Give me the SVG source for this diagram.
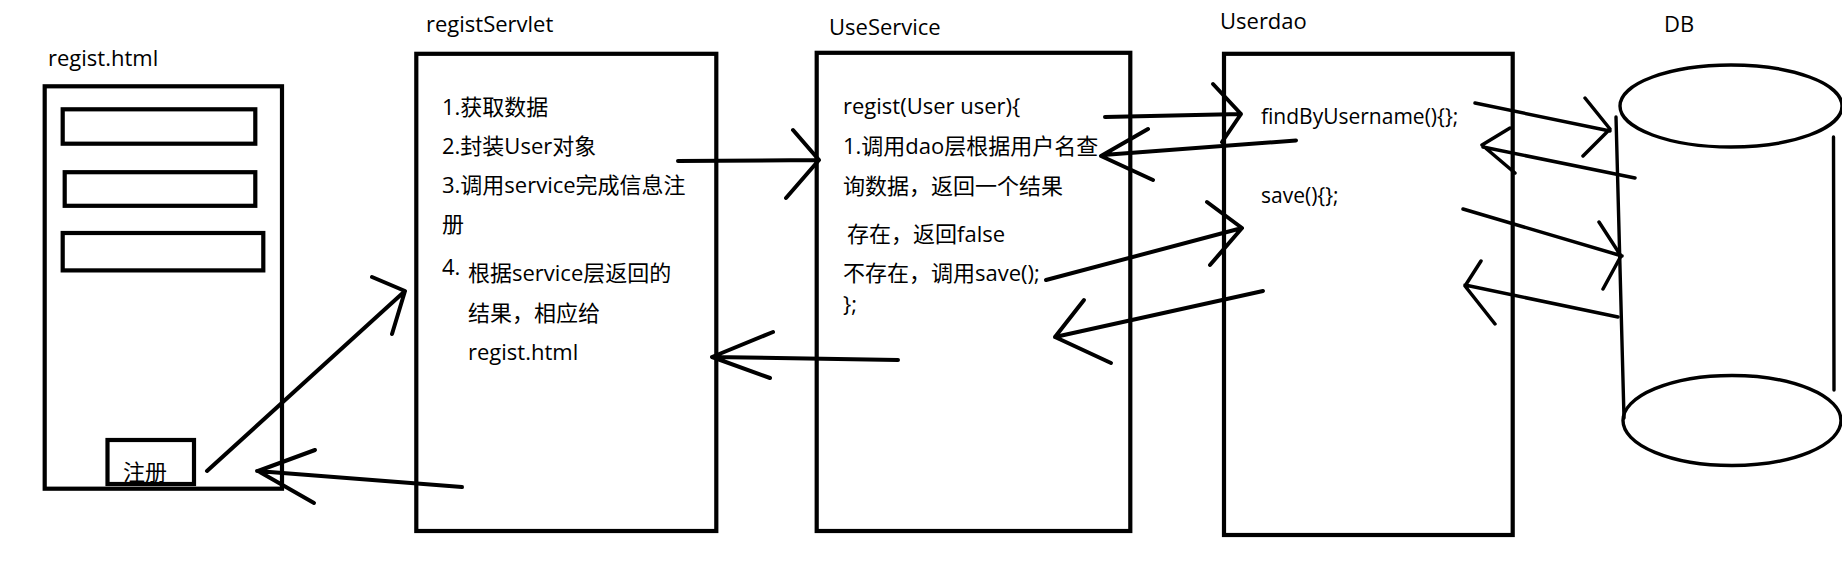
<svg xmlns="http://www.w3.org/2000/svg" width="1842" height="578" viewBox="0 0 1842 578">
<style>
  .box { fill: none; stroke: #000; stroke-width: 4.2; }
  .thin { fill: none; stroke: #000; stroke-width: 3.4; stroke-linecap: round; }
  .arr { fill: none; stroke: #000; stroke-width: 4; stroke-linecap: round; stroke-linejoin: round; }
  .arr2 { fill: none; stroke: #000; stroke-width: 3.5; stroke-linecap: round; stroke-linejoin: round; }
  text { font-family: "Open Sans", "Noto Sans CJK SC", sans-serif; font-size: 22px; fill: #000; }
  .small { font-size: 21px; }
</style>
<rect width="1842" height="578" fill="#fff"/>

<g id="regist-html">
  <text x="48" y="66">regist.html</text>
  <rect class="box" x="44.7" y="86.3" width="237.3" height="402.4"/>
  <rect class="box" x="62.7" y="109.3" width="192.6" height="34.4"/>
  <rect class="box" x="64.7" y="172.2" width="190.6" height="33.6"/>
  <rect class="box" x="62.7" y="233" width="200.6" height="37.4"/>
  <rect class="box" x="107.5" y="440" width="86.5" height="44"/>
  <text x="123" y="480">注册</text>
</g>

<g id="regist-servlet">
  <text x="426" y="32">registServlet</text>
  <rect class="box" x="416.3" y="53.8" width="300" height="477.2"/>
  <text x="442" y="115">1.获取数据</text>
  <text x="442" y="154">2.封装User对象</text>
  <text x="442" y="193">3.调用service完成信息注</text>
  <text x="442" y="232">册</text>
  <text x="442" y="275">4.</text>
  <text x="468" y="281">根据service层返回的</text>
  <text x="468" y="321">结果，相应给</text>
  <text x="468" y="360">regist.html</text>
</g>

<g id="use-service">
  <text x="829" y="35">UseService</text>
  <rect class="box" x="816.7" y="52.8" width="313.6" height="478.2"/>
  <text x="843" y="114">regist(User user){</text>
  <text x="843" y="154">1.调用dao层根据用户名查</text>
  <text x="843" y="193.5">询数据，返回一个结果</text>
  <text x="847" y="242">存在，返回false</text>
  <text x="843" y="281">不存在，调用save();</text>
  <text x="843" y="312">};</text>
</g>

<g id="userdao">
  <text x="1220" y="28.5">Userdao</text>
  <rect class="box" x="1224" y="53.8" width="288.7" height="481.2"/>
  <text class="small" x="1261" y="123.5">findByUsername(){};</text>
  <text class="small" x="1261" y="203">save(){};</text>
</g>

<g id="db">
  <text x="1664" y="32">DB</text>
  <ellipse class="thin" cx="1731" cy="106" rx="111" ry="41"/>
  <ellipse class="thin" cx="1732" cy="420.5" rx="109" ry="45"/>
  <path class="thin" d="M1616,117 L1624,418"/>
  <path class="thin" d="M1833.5,137 L1834,390"/>
</g>

<g id="connectors">
  <path class="arr" d="M207,471 L405,291 M372,277 L405,291 L392,334"/>
  <path class="arr" d="M462,487 L257,471 M315,450 L258,471 L314,503"/>
  <path class="arr" d="M678,161 L819,160 M793,130 L819,160 L786,198"/>
  <path class="arr" d="M898,360 L712,357 M773,332 L712,357 L770,378"/>
  <path class="arr" d="M1105,117 L1241,114 M1213,84 L1241,114 L1222,142"/>
  <path class="arr" d="M1296,140.5 L1103,155 M1148,129 L1101,156 L1153,180"/>
  <path class="arr" d="M1046,280 L1242,228 M1207,202 L1242,228 L1210,265"/>
  <path class="arr" d="M1263,291 L1055,337 M1084,300 L1055,337 L1111,363"/>
  <path class="arr2" d="M1475,103 L1610,131 M1585,98 L1610,129 L1583,156"/>
  <path class="arr2" d="M1635,178 L1483,147 M1510,128 L1482,145 L1515,173"/>
  <path class="arr2" d="M1463,209 L1622,256 M1599,222 L1621,256 L1603,289"/>
  <path class="arr2" d="M1618,317 L1465,285 M1481,261 L1465,286 L1495,324"/>
</g>
</svg>
